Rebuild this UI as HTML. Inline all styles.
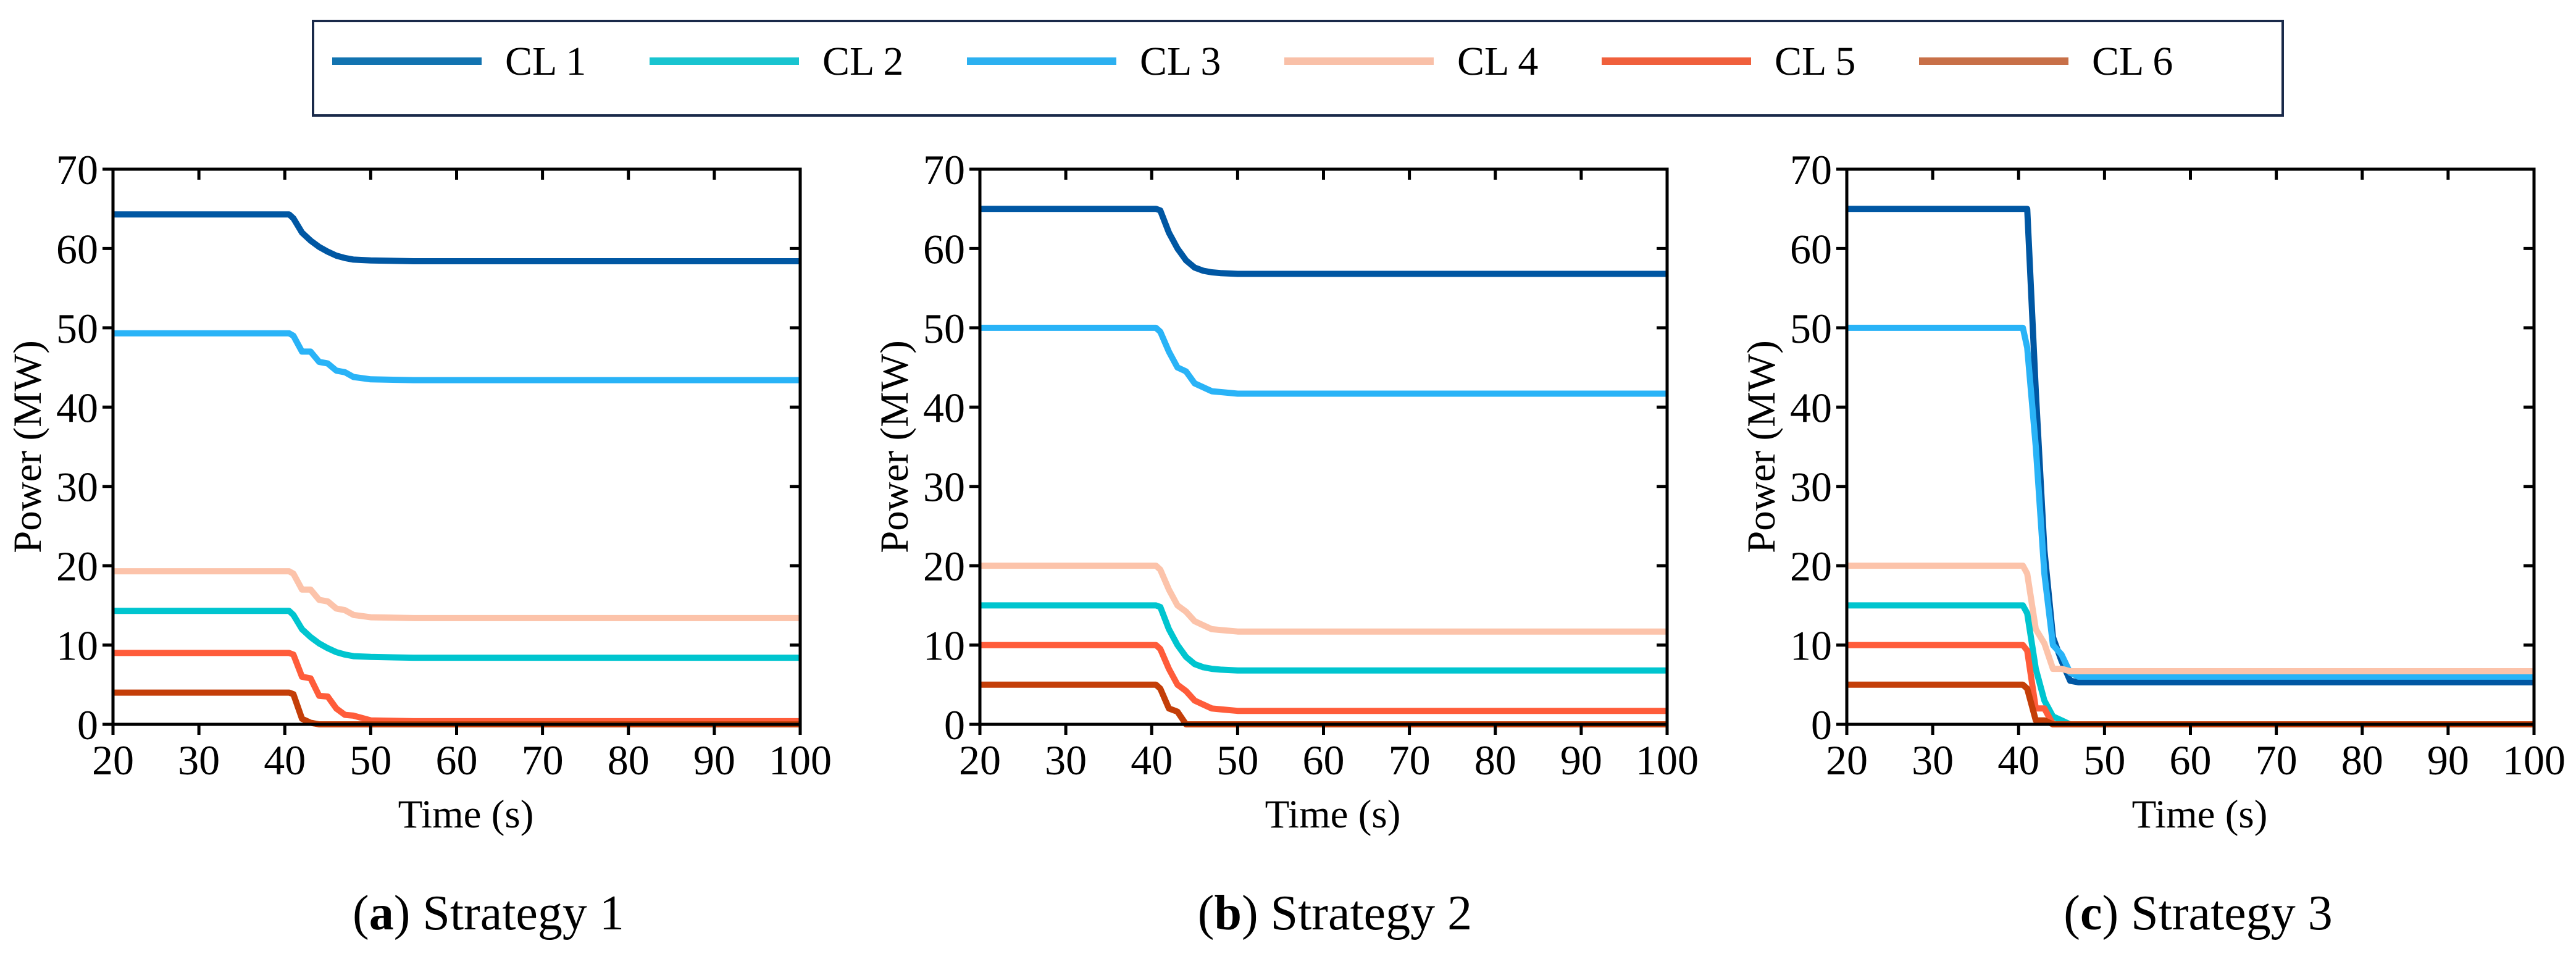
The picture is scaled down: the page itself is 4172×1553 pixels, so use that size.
<!DOCTYPE html>
<html><head><meta charset="utf-8">
<style>
html,body{margin:0;padding:0;background:#fff;}
svg{display:block;}
text{font-family:"Liberation Serif","Times New Roman",serif;fill:#000;}
</style></head>
<body>
<svg id="fig" width="4172" height="1553" viewBox="0 0 4172 1553" xmlns="http://www.w3.org/2000/svg">
<g id="legend"></g>
<g id="plots"></g>
</svg>
<script>
// Shared time samples (s)
const times = [20, 40.5, 41, 42, 43, 44, 45, 46, 47, 48, 50, 55, 100];
const seriesNames = ["CL 1", "CL 2", "CL 3", "CL 4", "CL 5", "CL 6"];
const xTicks = [20, 30, 40, 50, 60, 70, 80, 90, 100];
const yTicks = [0, 10, 20, 30, 40, 50, 60, 70];
const captionLetters = ["a", "b", "c"];
const captionTexts = ["Strategy 1", "Strategy 2", "Strategy 3"];

// Strategy 1 values (MW)
const s1cl1 = [64.3, 64.3, 63.8, 62.0, 61.0, 60.2, 59.6, 59.1, 58.8, 58.6, 58.5, 58.4, 58.4];
const s1cl2 = [14.3, 14.3, 13.8, 12.0, 11.0, 10.2, 9.6, 9.1, 8.8, 8.6, 8.5, 8.4, 8.4];
const s1cl3 = [49.3, 49.3, 49.0, 47.0, 47.0, 45.7, 45.5, 44.6, 44.4, 43.8, 43.5, 43.4, 43.4];
const s1cl4 = [19.3, 19.3, 19.0, 17.0, 17.0, 15.7, 15.5, 14.6, 14.4, 13.8, 13.5, 13.4, 13.4];
const s1cl5 = [9.0, 9.0, 8.8, 6.0, 5.8, 3.6, 3.5, 2.0, 1.2, 1.1, 0.5, 0.4, 0.4];
const s1cl6 = [4.0, 4.0, 3.8, 0.7, 0.2, 0, 0, 0, 0, 0, 0, 0, 0];
// Strategy 2 values (MW)
const s2cl1 = [65.0, 65.0, 64.8, 62.0, 60.0, 58.5, 57.6, 57.2, 57.0, 56.9, 56.8, 56.8, 56.8];
const s2cl2 = [15.0, 15.0, 14.8, 12.0, 10.0, 8.5, 7.6, 7.2, 7.0, 6.9, 6.8, 6.8, 6.8];
const s2cl3 = [50.0, 50.0, 49.5, 47.0, 45.0, 44.5, 43.0, 42.5, 42.0, 41.9, 41.7, 41.7, 41.7];
const s2cl4 = [20.0, 20.0, 19.5, 17.0, 15.0, 14.2, 13.0, 12.5, 12.0, 11.9, 11.7, 11.7, 11.7];
const s2cl5 = [10.0, 10.0, 9.5, 7.0, 5.0, 4.2, 3.0, 2.5, 2.0, 1.9, 1.7, 1.7, 1.7];
const s2cl6 = [5.0, 5.0, 4.5, 2.0, 1.6, 0, 0, 0, 0, 0, 0, 0, 0];
// Strategy 3 values (MW)
const s3cl1 = [65.0, 65.0, 65.0, 42.0, 22.0, 11.0, 8.0, 5.5, 5.3, 5.3, 5.3, 5.3, 5.3];
const s3cl2 = [15.0, 15.0, 14.0, 7.0, 3.0, 1.0, 0.5, 0, 0, 0, 0, 0, 0];
const s3cl3 = [50.0, 50.0, 47.5, 35.0, 19.0, 10.0, 8.8, 6.5, 6.0, 6.0, 6.0, 6.0, 6.0];
const s3cl4 = [20.0, 20.0, 19.0, 12.0, 10.2, 7.0, 7.0, 6.7, 6.7, 6.7, 6.7, 6.7, 6.7];
const s3cl5 = [10.0, 10.0, 9.3, 2.0, 2.0, 0, 0, 0, 0, 0, 0, 0, 0];
const s3cl6 = [5.0, 5.0, 4.5, 0.5, 0.5, 0, 0, 0, 0, 0, 0, 0, 0];

const strategies = [
  [s1cl1, s1cl2, s1cl3, s1cl4, s1cl5, s1cl6],
  [s2cl1, s2cl2, s2cl3, s2cl4, s2cl5, s2cl6],
  [s3cl1, s3cl2, s3cl3, s3cl4, s3cl5, s3cl6]
];

const lineColors = ["#0057a3", "#00c5cf", "#29b3f7", "#fcc3aa", "#ff5c3a", "#c43e08"];
const legendColors = ["#1273b0", "#19c4d0", "#2cb0f0", "#f9c0a8", "#f0603c", "#c87048"];
const drawOrder = [0, 2, 3, 1, 4, 5];

const NS = "http://www.w3.org/2000/svg";
function mk(tag, attrs, parent) {
  const e = document.createElementNS(NS, tag);
  for (const k in attrs) e.setAttribute(k, attrs[k]);
  parent.appendChild(e);
  return e;
}

// Legend
const lg = document.getElementById("legend");
const lbox = mk("rect", {x: 507, y: 34, width: 3190, height: 153, fill: "#fff", stroke: "#1a2a4a", "stroke-width": 4}, lg);


seriesNames.forEach((n, i) => {
  const x0 = 538 + i * 514;
  const g = mk("g", {}, lg);
  
  
  mk("line", {x1: x0, x2: x0 + 242, y1: 99, y2: 99, stroke: legendColors[i], "stroke-width": 12}, g);
  const t = mk("text", {x: x0 + 280, y: 121, "font-size": 66}, g);
  t.textContent = n;
});

// Plots
const plotsG = document.getElementById("plots");
const lefts = [183, 1587, 2991];
const plotW = 1113, plotTop = 274, plotBottom = 1173;
const captionCenters = [791, 2162, 3560];

strategies.forEach((series, p) => {
  const L = lefts[p], R = L + plotW;
  const xs = v => L + (v - 20) / 80 * plotW;
  const ys = v => plotBottom - v / 70 * (plotBottom - plotTop);
  const g = mk("g", {}, plotsG);
  
  

  drawOrder.forEach(si => {
    const vals = series[si];
    const pts = times.map((t, k) => xs(t).toFixed(1) + "," + ys(vals[k]).toFixed(1)).join(" ");
    const pl = mk("polyline", {points: pts, fill: "none", stroke: lineColors[si], "stroke-width": 10, "stroke-linejoin": "round"}, g);
    
    
  });

  const fr = mk("rect", {x: L, y: plotTop, width: plotW, height: plotBottom - plotTop, fill: "none", stroke: "#000", "stroke-width": 5}, g);
  
  

  xTicks.forEach(v => {
    const x = xs(v);
    mk("line", {x1: x, x2: x, y1: plotBottom, y2: plotBottom + 17, stroke: "#000", "stroke-width": 5}, g);
    mk("line", {x1: x, x2: x, y1: plotTop, y2: plotTop + 17, stroke: "#000", "stroke-width": 5}, g);
    const t = mk("text", {x: x, y: 1254, "font-size": 68, "text-anchor": "middle"}, g);
    
    
    t.textContent = v;
  });
  yTicks.forEach(v => {
    const y = ys(v);
    mk("line", {x1: L - 17, x2: L, y1: y, y2: y, stroke: "#000", "stroke-width": 5}, g);
    mk("line", {x1: R - 17, x2: R, y1: y, y2: y, stroke: "#000", "stroke-width": 5}, g);
    const t = mk("text", {x: L - 24, y: y + 24, "font-size": 68, "text-anchor": "end"}, g);
    
    
    t.textContent = v;
  });

  const xl = mk("text", {x: L + plotW / 2 + 15, y: 1340, "font-size": 65, "text-anchor": "middle"}, g);
  
  
  xl.textContent = "Time (s)";

  const yx = L - 138, yy = (plotTop + plotBottom) / 2;
  const yl = mk("text", {x: yx, y: yy, "font-size": 65, "text-anchor": "middle", transform: "rotate(-90 " + yx + " " + yy + ")", "dominant-baseline": "central"}, g);
  
  
  yl.textContent = "Power (MW)";

  const cap = mk("text", {x: captionCenters[p], y: 1505, "font-size": 80, "text-anchor": "middle"}, g);
  
  
  const s1 = mk("tspan", {}, cap); s1.textContent = "(";
  const s2 = mk("tspan", {"font-weight": "bold"}, cap); s2.textContent = captionLetters[p];
  const s3 = mk("tspan", {}, cap); s3.textContent = ") " + captionTexts[p];
});
</script>
</body></html>
